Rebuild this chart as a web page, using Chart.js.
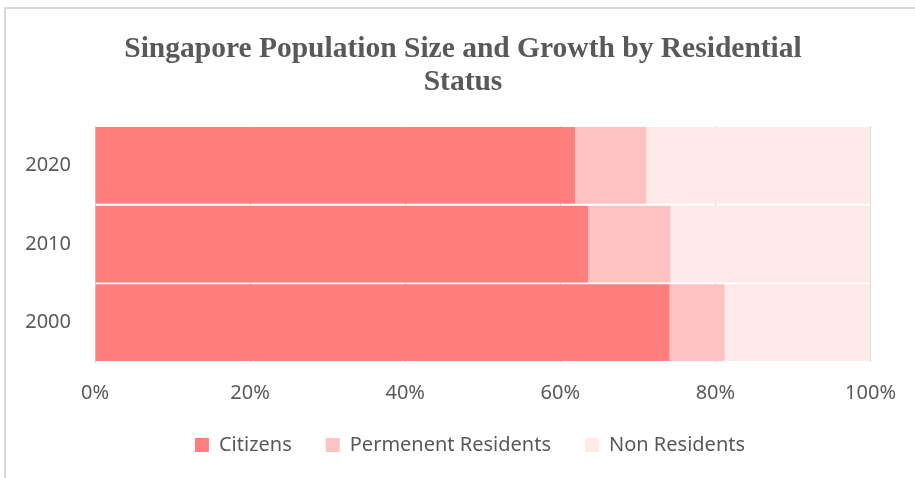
<!DOCTYPE html>
<html>
<head>
<meta charset="utf-8">
<script src="https://cdn.jsdelivr.net/npm/chart.js@4"></script>
<style>
  body { margin: 0; background: #fff; overflow: hidden; }
  #frame {
    position: absolute; left: 4px; top: 7px; width: 930px; height: 480px;
    border-top: 2px solid #d9d9d9; border-left: 2px solid #d9d9d9;
  }
  #wrap { position: absolute; left: 0; top: 0; width: 915px; height: 478px; }
</style>
</head>
<body>
<div id="frame"></div>
<div id="wrap"><canvas id="popChart"></canvas></div>
<script>
// Data (share of population, %)
const years = ['2020', '2010', '2000'];
const citizens = [61.9, 63.6, 74.1];
const permanentResidents = [9.2, 10.6, 7.1];
const nonResidents = [28.9, 25.8, 18.8];
const seriesNames = ['Citizens', 'Permenent Residents', 'Non Residents'];
const xTicks = [0, 20, 40, 60, 80, 100];

const textColor = '#595959';
const gridColor = '#d9d9d9';

// small layout nudges: let the year labels use the left margin, centre legend like the original
const nudge = {
  id: 'nudge',
  afterLayout(chart) {
    chart.scales.y.left = 0;
    chart.legend.left += 7;
    chart.legend.right += 7;
  }
};

const ctx = document.getElementById('popChart').getContext('2d');
new Chart(ctx, {
  type: 'bar',
  data: {
    labels: years,
    datasets: [
      { label: seriesNames[0], data: citizens, backgroundColor: '#ff7f7f' },
      { label: seriesNames[1], data: permanentResidents, backgroundColor: '#ffc2c2' },
      { label: seriesNames[2], data: nonResidents, backgroundColor: '#ffeaea' }
    ]
  },
  options: {
    indexAxis: 'y',
    responsive: true,
    maintainAspectRatio: false,
    animation: false,
    datasets: {
      bar: { barPercentage: 0.975, categoryPercentage: 1 }
    },
    layout: { padding: { left: 35, right: 24, top: 0, bottom: 13 } },
    scales: {
      x: {
        stacked: true,
        min: 0,
        max: 100,
        afterBuildTicks: axis => { axis.ticks = xTicks.map(v => ({ value: v })); },
        // keep the axis block tight so the legend sits close
        afterFit: scale => { scale.height -= 23; },
        grid: { color: gridColor, lineWidth: 1, tickLength: 0 },
        border: { display: false },
        ticks: {
          color: textColor,
          font: { family: 'Noto Sans', size: 20 },
          padding: 19,
          callback: v => v + '%'
        }
      },
      y: {
        stacked: true,
        afterFit: scale => { scale.width = 60; },
        grid: { display: false, drawTicks: false },
        border: { display: true, color: gridColor, width: 1 },
        ticks: {
          color: textColor,
          font: { family: 'Noto Sans', size: 20 },
          padding: 24
        }
      }
    },
    plugins: {
      title: {
        display: true,
        text: ['Singapore Population Size and Growth by Residential', 'Status'],
        color: textColor,
        font: { family: 'Liberation Serif', size: 29.5, weight: 'bold', lineHeight: 1.12 },
        padding: { top: 33, bottom: 27 }
      },
      legend: {
        position: 'bottom',
        labels: {
          color: textColor,
          font: { family: 'Noto Sans', size: 20 },
          boxWidth: 14,
          boxHeight: 14,
          padding: 34
        }
      },
      tooltip: { enabled: false }
    }
  },
  plugins: [nudge]
});
</script>
</body>
</html>
